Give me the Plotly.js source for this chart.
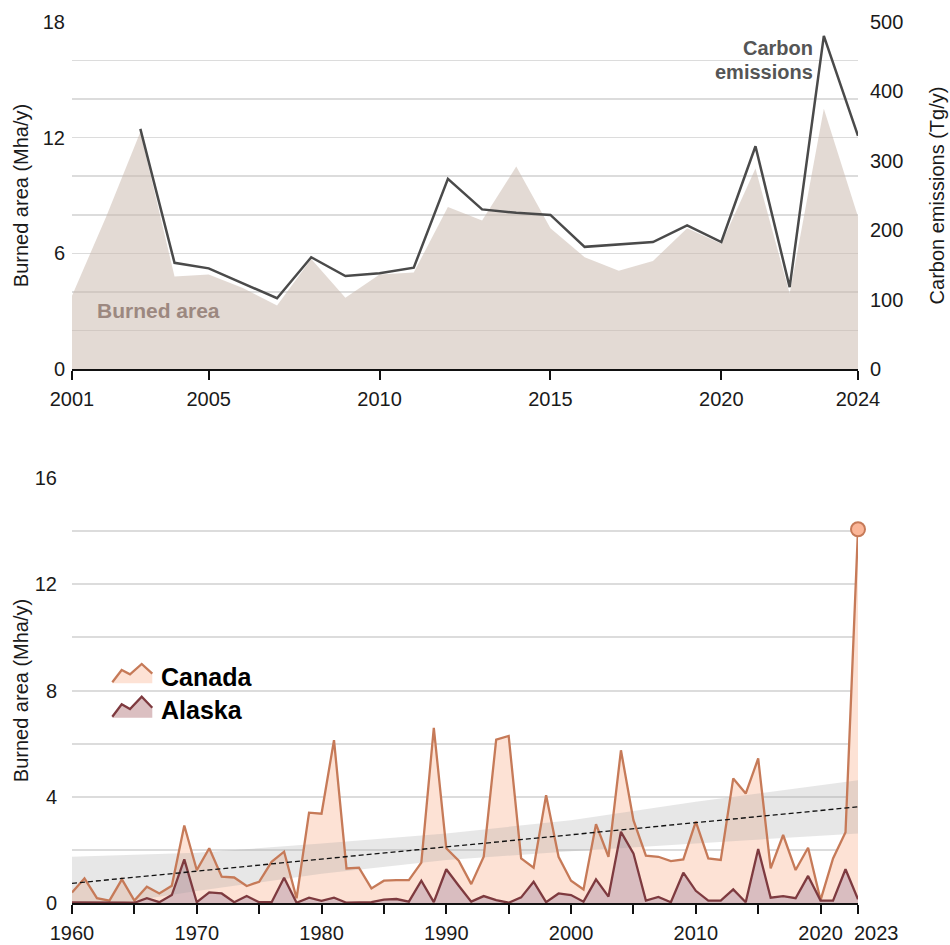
<!DOCTYPE html>
<html>
<head>
<meta charset="utf-8">
<script src="https://cdn.plot.ly/plotly-3.0.1.min.js"></script>
<style>
  html, body { margin: 0; padding: 0; background: #fff; }
  #chart { width: 950px; height: 945px; }
</style>
</head>
<body>
<div id="chart"></div>
<script>
// ---------- Data: top panel (2001-2024) ----------
const topYears = [2001, 2002, 2003, 2004, 2005, 2006, 2007, 2008, 2009, 2010, 2011, 2012,
                  2013, 2014, 2015, 2016, 2017, 2018, 2019, 2020, 2021, 2022, 2023, 2024];
const topBurnedArea = [3.8, 7.9, 12.3, 4.8, 4.9, 4.2, 3.3, 5.7, 3.7, 4.9, 5.0, 8.4,
                       7.7, 10.5, 7.3, 5.8, 5.1, 5.6, 7.3, 6.5, 10.4, 3.9, 13.5, 7.9];
const emissionYears = [2003, 2004, 2005, 2006, 2007, 2008, 2009, 2010, 2011, 2012, 2013,
                       2014, 2015, 2016, 2017, 2018, 2019, 2020, 2021, 2022, 2023, 2024];
const carbonEmissions = [346, 153, 145, 124, 102, 161, 134, 138, 146, 274, 230,
                         225, 222, 176, 180, 183, 207, 183, 321, 118, 480, 336];
const topXTicks = [2001, 2005, 2010, 2015, 2020, 2024];
const topYTicks = [0, 6, 12, 18];
const topY2Ticks = [0, 100, 200, 300, 400, 500];

// ---------- Data: bottom panel (1960-2023) ----------
const years = [1960, 1961, 1962, 1963, 1964, 1965, 1966, 1967, 1968, 1969,
               1970, 1971, 1972, 1973, 1974, 1975, 1976, 1977, 1978, 1979,
               1980, 1981, 1982, 1983, 1984, 1985, 1986, 1987, 1988, 1989,
               1990, 1991, 1992, 1993, 1994, 1995, 1996, 1997, 1998, 1999,
               2000, 2001, 2002, 2003, 2004, 2005, 2006, 2007, 2008, 2009,
               2010, 2011, 2012, 2013, 2014, 2015, 2016, 2017, 2018, 2019,
               2020, 2021, 2022, 2023];
const canada = [0.40, 0.93, 0.18, 0.09, 0.89, 0.09, 0.61, 0.36, 0.65, 2.92,
                1.24, 2.06, 0.99, 0.96, 0.64, 0.80, 1.55, 1.93, 0.18, 3.40,
                3.36, 6.13, 1.30, 1.33, 0.55, 0.84, 0.86, 0.86, 1.52, 6.59,
                2.06, 1.59, 0.71, 1.74, 6.15, 6.29, 1.68, 1.33, 4.06, 1.74,
                0.84, 0.51, 2.97, 1.74, 5.75, 3.12, 1.78, 1.74, 1.58, 1.64,
                3.06, 1.68, 1.62, 4.69, 4.12, 5.44, 1.30, 2.56, 1.24, 2.08,
                0.11, 1.68, 2.66, 14.07];
const alaska = [0.02, 0.02, 0.01, 0.01, 0.01, 0.01, 0.18, 0.03, 0.30, 1.64,
                0.03, 0.40, 0.36, 0.03, 0.26, 0.03, 0.03, 0.95, 0.01, 0.20,
                0.08, 0.20, 0.01, 0.03, 0.03, 0.13, 0.15, 0.05, 0.84, 0.03,
                1.27, 0.65, 0.05, 0.26, 0.11, 0.01, 0.21, 0.80, 0.03, 0.36,
                0.30, 0.05, 0.89, 0.24, 2.68, 1.87, 0.09, 0.23, 0.03, 1.14,
                0.46, 0.09, 0.09, 0.51, 0.03, 2.03, 0.20, 0.26, 0.18, 1.02,
                0.09, 0.09, 1.27, 0.14];
const trendYears = [1960, 2023];
const trendValues = [0.74, 3.62];
const bandYears = [1960, 1970, 1980, 1990, 2000, 2010, 2023];
const bandUpper = [1.74, 1.89, 2.24, 2.62, 3.12, 3.81, 4.62];
const bandLower = [-0.26, 0.45, 1.10, 1.62, 1.95, 2.24, 2.62];
const bottomXTicks = [1960, 1965, 1970, 1975, 1980, 1985, 1990, 1995, 2000, 2005, 2010, 2015, 2020, 2023];
const bottomXLabels = ['1960', '', '1970', '', '1980', '', '1990', '', '2000', '', '2010', '', '2020', ''];
const lastYearLabel = '2023';
const bottomYTicks = [0, 4, 8, 12, 16];

// ---------- Styles ----------
const FONT = 'Liberation Sans, Arial, Helvetica, sans-serif';
const INK = '#1a1a1a';
const GRID = '#dcdcdc';
const canadaLine = '#c67a58';
const canadaFill = '#fde2d5';
const alaskaLine = '#7e3a3f';
const alaskaFill = 'rgba(163,135,159,0.40)';

const lastIdx = years.length - 1;

const traces = [
  // top panel
  { x: topYears, y: topBurnedArea, type: 'scatter', mode: 'lines', fill: 'tozeroy',
    fillcolor: 'rgba(199,181,169,0.5)', line: { width: 0, color: 'rgba(0,0,0,0)' },
    xaxis: 'x', yaxis: 'y', hoverinfo: 'x+y', name: 'Burned area' },
  { x: emissionYears, y: carbonEmissions, type: 'scatter', mode: 'lines',
    line: { color: '#4a4a4a', width: 2.5 }, xaxis: 'x', yaxis: 'y2', name: 'Carbon emissions' },

  // bottom panel fills
  { x: years, y: canada, type: 'scatter', mode: 'lines', fill: 'tozeroy',
    fillcolor: canadaFill, line: { width: 0, color: 'rgba(0,0,0,0)' },
    xaxis: 'x2', yaxis: 'y3', hoverinfo: 'skip', name: 'Canada fill' },
  { x: years, y: alaska, type: 'scatter', mode: 'lines', fill: 'tozeroy',
    fillcolor: alaskaFill, line: { width: 0, color: 'rgba(0,0,0,0)' },
    xaxis: 'x2', yaxis: 'y3', hoverinfo: 'skip', name: 'Alaska fill' },
  // confidence band
  { x: bandYears, y: bandLower, type: 'scatter', mode: 'lines',
    line: { width: 0, color: 'rgba(0,0,0,0)' }, xaxis: 'x2', yaxis: 'y3', hoverinfo: 'skip', name: 'band low' },
  { x: bandYears, y: bandUpper, type: 'scatter', mode: 'lines', fill: 'tonexty',
    fillcolor: 'rgba(160,160,160,0.25)', line: { width: 0, color: 'rgba(0,0,0,0)' },
    xaxis: 'x2', yaxis: 'y3', hoverinfo: 'skip', name: 'band high' },
  // lines
  { x: years, y: canada, type: 'scatter', mode: 'lines',
    line: { color: canadaLine, width: 2.3 }, xaxis: 'x2', yaxis: 'y3', name: 'Canada' },
  { x: years, y: alaska, type: 'scatter', mode: 'lines',
    line: { color: alaskaLine, width: 2.3 }, xaxis: 'x2', yaxis: 'y3', name: 'Alaska' },
  { x: trendYears, y: trendValues, type: 'scatter', mode: 'lines',
    line: { color: '#111', width: 1.3, dash: '5px,3px' }, xaxis: 'x2', yaxis: 'y3', name: 'Trend' },
  { x: [years[lastIdx]], y: [canada[lastIdx]], type: 'scatter', mode: 'markers', cliponaxis: false,
    marker: { size: 14, color: '#fbb698', line: { color: canadaLine, width: 2 } },
    xaxis: 'x2', yaxis: 'y3', name: '2023' }
];

// pixel -> paper helpers (layout decoration only)
const ML = 72, MR = 92, MT = 22, MB = 42, W = 950, H = 945;
const PW = W - ML - MR, PH = H - MT - MB;
const px = v => (v - ML) / PW;
const py = v => (H - MB - v) / PH;

function iconPath(pts, close) {
  let s = pts.map((p, i) => (i ? 'L' : 'M') + px(p[0]).toFixed(5) + ',' + py(p[1]).toFixed(5)).join(' ');
  return close ? s + ' Z' : s;
}
const canadaZig = [[112.3, 682.3], [121.7, 670], [130, 674.3], [141.7, 664], [152.3, 673.7]];
const alaskaZig = [[112.3, 716.7], [121.7, 704.3], [130, 709], [141.7, 696.7], [152.3, 707.7]];

const shapes = [
  { type: 'path', xref: 'paper', yref: 'paper', layer: 'above',
    path: iconPath(canadaZig.concat([[152.3, 683.3], [112.3, 683.3]]), true),
    fillcolor: canadaFill, line: { width: 0 } },
  { type: 'path', xref: 'paper', yref: 'paper', layer: 'above',
    path: iconPath(canadaZig, false), line: { color: canadaLine, width: 2.3 } },
  { type: 'path', xref: 'paper', yref: 'paper', layer: 'above',
    path: iconPath(alaskaZig.concat([[152.3, 717.7], [112.3, 717.7]]), true),
    fillcolor: '#dbbfc1', line: { width: 0 } },
  { type: 'path', xref: 'paper', yref: 'paper', layer: 'above',
    path: iconPath(alaskaZig, false), line: { color: alaskaLine, width: 2.3 } }
];

const tickFont = { family: FONT, size: 20, color: INK };
const titleFont = { family: FONT, size: 20, color: INK };

const annotations = [
  { xref: 'paper', yref: 'paper', x: px(158.8), y: py(310), text: '<b>Burned area</b>',
    showarrow: false, xanchor: 'center', yanchor: 'middle',
    font: { family: FONT, size: 21, color: '#9c8880' } },
  { xref: 'paper', yref: 'paper', x: px(815), y: py(48), text: '<b>Carbon</b>',
    showarrow: false, xanchor: 'right', yanchor: 'middle',
    font: { family: FONT, size: 20, color: '#555555' } },
  { xref: 'paper', yref: 'paper', x: px(815), y: py(72), text: '<b>emissions</b>',
    showarrow: false, xanchor: 'right', yanchor: 'middle',
    font: { family: FONT, size: 20, color: '#555555' } },
  { xref: 'paper', yref: 'paper', x: px(159), y: py(677), text: '<b>Canada</b>',
    showarrow: false, xanchor: 'left', yanchor: 'middle',
    font: { family: FONT, size: 25, color: '#000' } },
  { xref: 'paper', yref: 'paper', x: px(159), y: py(710), text: '<b>Alaska</b>',
    showarrow: false, xanchor: 'left', yanchor: 'middle',
    font: { family: FONT, size: 25, color: '#000' } },
  // last-year tick label, nudged right of its tick as in the reference
  { xref: 'x2', yref: 'paper', x: years[lastIdx], y: py(933), text: lastYearLabel,
    showarrow: false, xanchor: 'left', yanchor: 'middle', xshift: -5, borderpad: 0,
    font: tickFont }
];

const xCommon = {
  showgrid: false, zeroline: false, showline: true, linecolor: '#111', linewidth: 2,
  ticks: 'outside', ticklen: 9, tickwidth: 2, tickcolor: '#111', tickfont: tickFont,
  tickmode: 'array', tickangle: 0, ticklabelstandoff: 2, fixedrange: true
};

const layout = {
  width: W, height: H,
  margin: { l: ML, r: MR, t: MT, b: MB, pad: 0 },
  paper_bgcolor: '#fff', plot_bgcolor: 'rgba(0,0,0,0)',
  showlegend: false,
  font: { family: FONT, color: INK },
  xaxis: Object.assign({}, xCommon, {
    domain: [0, 1], anchor: 'y', range: [2001, 2024],
    tickvals: topXTicks, ticktext: topXTicks.map(String)
  }),
  yaxis: {
    domain: [py(369), 1], anchor: 'x', range: [0, 18],
    tickmode: 'array', tickvals: topYTicks, ticks: '', tickfont: tickFont, ticklabelstandoff: 6,
    showgrid: true, gridcolor: GRID, gridwidth: 1.5, zeroline: false, showline: false,
    minor: { dtick: 2, tick0: 0, showgrid: true, gridcolor: GRID, gridwidth: 1.5 },
    title: { text: 'Burned area (Mha/y)', font: titleFont, standoff: 8 }
  },
  yaxis2: {
    overlaying: 'y', side: 'right', anchor: 'x', range: [0, 500],
    tickmode: 'array', tickvals: topY2Ticks, ticks: '', tickfont: tickFont, ticklabelstandoff: 11,
    showgrid: false, zeroline: false, showline: false,
    title: { text: 'Carbon emissions (Tg/y)', font: titleFont, standoff: 27 }
  },
  xaxis2: Object.assign({}, xCommon, {
    domain: [0, 1], anchor: 'y3', range: [1960, 2023],
    tickvals: bottomXTicks, ticktext: bottomXLabels
  }),
  yaxis3: {
    domain: [0, py(478)], anchor: 'x2', range: [0, 16],
    tickmode: 'array', tickvals: bottomYTicks, ticks: '', tickfont: tickFont, ticklabelstandoff: 14,
    showgrid: true, gridcolor: GRID, gridwidth: 2, zeroline: false, showline: false,
    minor: { dtick: 2, tick0: 0, showgrid: true, gridcolor: GRID, gridwidth: 2 },
    title: { text: 'Burned area (Mha/y)', font: titleFont, standoff: 0 }
  },
  shapes: shapes,
  annotations: annotations
};

Plotly.newPlot('chart', traces, layout, { staticPlot: true, displayModeBar: false });
</script>
</body>
</html>
